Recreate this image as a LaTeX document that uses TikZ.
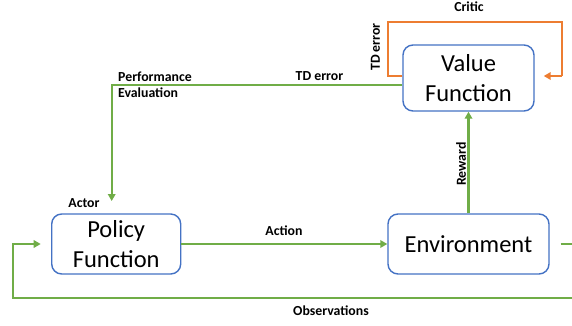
\documentclass[tikz,border=0pt]{standalone}
\usepackage{fontspec}
\setmainfont{Carlito}
\usetikzlibrary{arrows.meta}
\definecolor{offgreen}{HTML}{70AD47}
\definecolor{offorange}{HTML}{ED7D31}
\definecolor{offblue}{HTML}{4472C4}
\tikzset{
  fbox/.style={draw=offblue, line width=1.4pt, rounded corners=10pt, fill=white,
    align=center, font=\fontsize{24.5}{29.5}\selectfont, inner sep=0pt},
  gline/.style={draw=offgreen, line width=2.1pt},
  oline/.style={draw=offorange, line width=2.1pt},
  tip/.style={-{Triangle[length=7pt,width=7.5pt]}},
  lbl/.style={font=\fontsize{13.8}{16}\selectfont\bfseries, inner sep=0pt},
}
\begin{document}
\begin{tikzpicture}[x=1pt,y=-1pt]
\useasboundingbox (0,0) rectangle (572,326);
\node[fbox, minimum width=131pt, minimum height=66pt] (val) at (468.5,78) {Value\\Function};
\node[fbox, minimum width=129pt, minimum height=60pt] (pol) at (116.2,244) {Policy\\Function};
\node[fbox, minimum width=161pt, minimum height=60pt] (env) at (468.5,244) {Environment};

\coordinate (o1) at (388,76);
\coordinate (o2) at (388,22);
\coordinate (o3) at (562,22);
\coordinate (o4) at (562,76);
\draw[oline, line join=miter] (val.west |- o1) -- (o1) -- (o2) -- (o3) -- (o4);
\draw[oline, tip, shorten >=9pt] (o4) -- (val.east |- o4);

\coordinate (g1) at (111.7,85);
\draw[gline, tip, shorten >=12.3pt] (val.west |- g1) -- (g1) -- (g1 |- pol.north);

\draw[gline, tip] (env.north) -- (val.south);
\draw[gline, tip] (pol.east) -- (env.west);

\coordinate (b1) at (578,244);
\coordinate (b2) at (578,298);
\coordinate (b3) at (12.7,298);
\coordinate (b4) at (12.7,244);
\draw[gline, tip, shorten <=11pt, shorten >=10.3pt] (env.east) -- (b1) -- (b2) -- (b3) -- (b4) -- (pol.west);

\node[lbl] (critic) at (469,7) {Critic};
\node[lbl, rotate=90] (tde1) at (375.5,47) {TD error};
\node[lbl] (tde2) at (319.5,76) {TD error};
\node[lbl, anchor=west] (perf) at (118,76.5) {Performance};
\node[lbl, anchor=west] (eval) at (118,93) {Evaluation};
\node[lbl] (actor) at (84,203) {Actor};
\node[lbl] (action) at (284,231) {Action};
\node[lbl, rotate=90] (reward) at (461,164) {Reward};
\node[lbl] (obs) at (331,311) {Observations};
\end{tikzpicture}
\end{document}
